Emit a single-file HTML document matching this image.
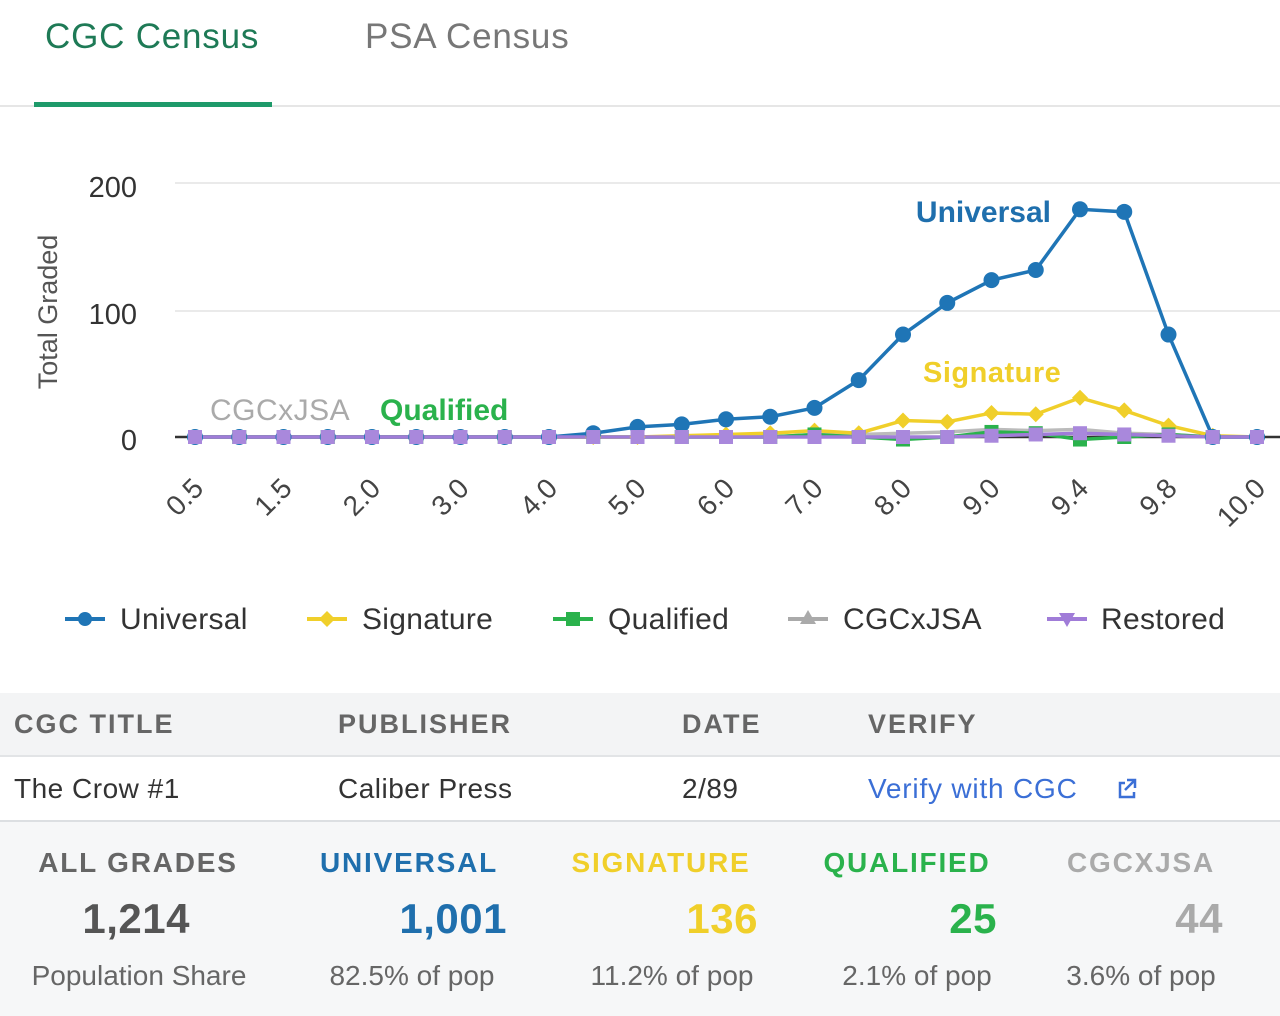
<!DOCTYPE html>
<html><head><meta charset="utf-8"><style>
body{margin:0;width:1280px;height:1016px;overflow:hidden;background:#fff;font-family:"Liberation Sans",sans-serif}
svg{display:block}
</style></head><body>
<svg id="s" width="1280" height="1016" xmlns="http://www.w3.org/2000/svg" font-family="Liberation Sans, sans-serif">
<rect x="0" y="693" width="1280" height="63" fill="#f3f4f5"/>
<line x1="0" y1="756" x2="1280" y2="756" stroke="#e2e4e6" stroke-width="2"/>
<rect x="0" y="822" width="1280" height="194" fill="#f6f7f8"/>
<line x1="0" y1="821" x2="1280" y2="821" stroke="#dcdfe2" stroke-width="2"/>
<text x="45" y="48" font-size="35" fill="#1e7a56" letter-spacing="0.8">CGC Census</text>
<text x="365" y="48" font-size="35" fill="#777" letter-spacing="0.8">PSA Census</text>
<line x1="0" y1="106" x2="1280" y2="106" stroke="#e6e6e6" stroke-width="2"/>
<rect x="34" y="102" width="238" height="5" fill="#1e9a6a"/>
<g stroke="#e4e4e4" stroke-width="1.5"><line x1="175" y1="183" x2="1280" y2="183"/><line x1="175" y1="311" x2="1280" y2="311"/></g>
<line x1="175" y1="437" x2="1280" y2="437" stroke="#333" stroke-width="2.5"/>
<g font-size="29" fill="#333" text-anchor="end"><text x="137" y="197">200</text><text x="137" y="324">100</text><text x="137" y="450">0</text></g>
<text transform="translate(57,312) rotate(-90)" font-size="27" fill="#555" text-anchor="middle">Total Graded</text>
<g id="g"></g>
<text x="1051" y="222" font-size="30" font-weight="bold" fill="#1f6fad" text-anchor="end">Universal</text>
<text x="923" y="382" font-size="29" font-weight="bold" fill="#f0cf2a" letter-spacing="0.5">Signature</text>
<text x="210" y="420" font-size="30" fill="#aaa" letter-spacing="0.5">CGCxJSA</text>
<text x="380" y="420" font-size="30" font-weight="bold" fill="#2ab24c">Qualified</text>
<g font-size="30" fill="#333" letter-spacing="0.3">
<line x1="65" y1="619" x2="105" y2="619" stroke="#1f75b6" stroke-width="4"/><circle cx="85" cy="619" r="7" fill="#1f75b6"/><text x="120" y="629">Universal</text>
<line x1="307" y1="619" x2="347" y2="619" stroke="#f0cf2a" stroke-width="4"/><path d="M327 611 L335 619 L327 627 L319 619Z" fill="#f0cf2a"/><text x="362" y="629">Signature</text>
<line x1="553" y1="619" x2="593" y2="619" stroke="#2ab24c" stroke-width="4"/><rect x="566" y="612" width="14" height="14" fill="#2ab24c"/><text x="608" y="629">Qualified</text>
<line x1="788" y1="619" x2="828" y2="619" stroke="#aaa" stroke-width="4"/><path d="M808 610 L816 624 L800 624Z" fill="#aaa"/><text x="843" y="629">CGCxJSA</text>
<line x1="1047" y1="619" x2="1087" y2="619" stroke="#a07cd8" stroke-width="4"/><path d="M1059 613 L1075 613 L1067 627Z" fill="#a07cd8"/><text x="1101" y="629">Restored</text>
</g>
<g font-size="27" font-weight="bold" fill="#666" letter-spacing="2"><text x="14" y="733">CGC TITLE</text><text x="338" y="733">PUBLISHER</text><text x="682" y="733">DATE</text><text x="868" y="733">VERIFY</text></g>
<g font-size="28" fill="#333" letter-spacing="0.5"><text x="14" y="798">The Crow #1</text><text x="338" y="798">Caliber Press</text><text x="682" y="798">2/89</text></g>
<text x="868" y="798" font-size="28" fill="#3b6fd6" letter-spacing="0.8">Verify with CGC</text>
<path d="M1125 783 h-5 v14 h14 v-5 M1127 780 h8 v8 M1135 780 l-10 10" fill="none" stroke="#3b6fd6" stroke-width="2.5"/>
<g font-size="28" font-weight="bold" letter-spacing="1.8" text-anchor="middle">
<text x="138" y="872" fill="#666">ALL GRADES</text><text x="409" y="872" fill="#1f6fad">UNIVERSAL</text><text x="661" y="872" fill="#f0cf2a">SIGNATURE</text><text x="907" y="872" fill="#2ab24c">QUALIFIED</text><text x="1141" y="872" fill="#aaa">CGCXJSA</text></g>
<g font-size="42" font-weight="bold" text-anchor="end" letter-spacing="0.5">
<text x="190" y="933" fill="#555">1,214</text><text x="507" y="933" fill="#1f6fad">1,001</text><text x="758" y="933" fill="#f0cf2a">136</text><text x="997" y="933" fill="#2ab24c">25</text><text x="1223" y="933" fill="#aaa">44</text></g>
<g font-size="28" fill="#666" text-anchor="middle">
<text x="139" y="985">Population Share</text><text x="412" y="985">82.5% of pop</text><text x="672" y="985">11.2% of pop</text><text x="917" y="985">2.1% of pop</text><text x="1141" y="985">3.6% of pop</text></g>
</svg>
<script>
var g=document.getElementById('g'),h='';
var X=i=>195+i*44.25, Y=v=>437-v*1.265;
var U=[0,0,0,0,0,0,0,0,0,3,8,10,14,16,23,45,81,106,124,132,180,178,81,0,0];
var S=[0,0,0,0,0,0,0,0,0,0,0,1,2,3,5,3,13,12,19,18,31,21,9,1,0];
var Q=[0,0,0,0,0,0,0,0,0,0,0,0,0,0,2,0,-2,0,4,3,-2,0,2,0,0];
var C=[0,0,0,0,0,0,0,0,0,0,0,0,0,0,2,2,3,4,6,5,6,3,2,0,0];
var R=[0,0,0,0,0,0,0,0,0,0,0,0,0,0,0,0,0,0,1,2,3,2,1,0,0];
function line(a,c){return '<polyline fill="none" stroke="'+c+'" stroke-width="3.5" points="'+a.map((v,i)=>X(i)+','+Y(v)).join(' ')+'"/>';}
h+=line(C,'#bbb')+line(Q,'#2ab24c')+line(S,'#f0cf2a')+line(U,'#1f75b6')+line(R,'#a07cd8');
S.forEach((v,i)=>{var x=X(i),y=Y(v);h+='<path d="M'+x+' '+(y-8)+' L'+(x+8)+' '+y+' L'+x+' '+(y+8)+' L'+(x-8)+' '+y+'Z" fill="#f0cf2a"/>';});
U.forEach((v,i)=>{h+='<circle cx="'+X(i)+'" cy="'+Y(v)+'" r="8" fill="#1f75b6"/>';});
Q.forEach((v,i)=>{h+='<rect x="'+(X(i)-7)+'" y="'+(Y(v)-7)+'" width="14" height="14" fill="#2ab24c"/>';});
R.forEach((v,i)=>{var x=X(i),y=Y(v);h+='<rect x="'+(x-7)+'" y="'+(y-7)+'" width="14" height="14" fill="#a988dc"/>';});
var L=['0.5','1.5','2.0','3.0','4.0','5.0','6.0','7.0','8.0','9.0','9.4','9.8','10.0'];
L.forEach((t,k)=>{var x=X(k*2)+10;h+='<text transform="translate('+x+',490) rotate(-45)" text-anchor="end" font-size="28" fill="#444">'+t+'</text>';});
g.innerHTML=h;
</script>
</body></html>
